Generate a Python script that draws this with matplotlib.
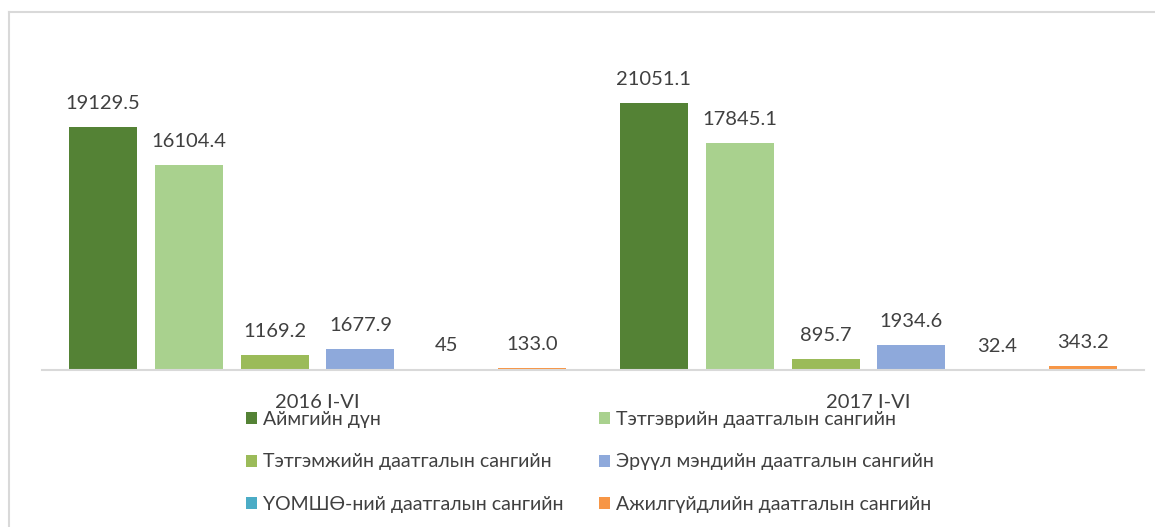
import numpy as np
import matplotlib.pyplot as plt
from matplotlib.patches import Patch
from matplotlib.lines import Line2D

plt.rcParams['font.family'] = ['Lato', 'Noto Sans', 'DejaVu Sans']

periods = ['2016 I-VI', '2017 I-VI']
series = ['Аймгийн дүн', 'Тэтгэврийн даатгалын сангийн', 'Тэтгэмжийн даатгалын сангийн',
          'Эрүүл мэндийн даатгалын сангийн', 'ҮОМШӨ-ний даатгалын сангийн',
          'Ажилгүйдлийн даатгалын сангийн']
values_2016 = [19129.5, 16104.4, 1169.2, 1677.9, 45, 133.0]
values_2017 = [21051.1, 17845.1, 895.7, 1934.6, 32.4, 343.2]
labels_2016 = ['19129.5', '16104.4', '1169.2', '1677.9', '45', '133.0']
labels_2017 = ['21051.1', '17845.1', '895.7', '1934.6', '32.4', '343.2']
colors = ['#548235', '#A9D18E', '#9BBB59', '#8EA9DB', '#4BACC6', '#F79646']

fig = plt.figure(figsize=(11.55, 5.27), dpi=100)
ax = fig.add_axes([42/1155, 1 - 370/527, 1102/1155, 317.6/527])

x = np.arange(len(periods))
step = 0.156
width = 0.1234
vals = np.array([values_2016, values_2017])
labs = [labels_2016, labels_2017]
for k in range(len(series)):
    pos = x + (k - 2.5) * step
    bars = ax.bar(pos, vals[:, k], width=width, color=colors[k], zorder=2)
    for i, b in enumerate(bars):
        ax.annotate(labs[i][k], (b.get_x() + b.get_width()/2, b.get_height()),
                    xytext=(0, 13), textcoords='offset points',
                    ha='center', va='baseline', fontsize=14.5, color='#404040')

ax.set_xlim(-0.5, 1.5)
ax.set_ylim(0, 25000)
ax.set_yticks([])
ax.set_xticks(x)
ax.set_xticklabels(periods, fontsize=14.5, color='#404040')
ax.tick_params(axis='x', length=0, pad=17)
for s in ['top', 'right', 'left']:
    ax.spines[s].set_visible(False)
ax.spines['bottom'].set_color('#d9d9d9')
ax.spines['bottom'].set_linewidth(1.5)

order = [0, 2, 4, 1, 3, 5]
handles = [Patch(facecolor=colors[k], label=series[k]) for k in order]
fig.legend(handles=handles, ncol=2, loc='center', bbox_to_anchor=(590/1155, 1 - 462/527),
           frameon=False, fontsize=14, handlelength=0.57, handleheight=0.57,
           handletextpad=0.3, columnspacing=1.8, labelspacing=1.3, labelcolor='#404040')

# chart border
fig.add_artist(Line2D([9/1155, 9/1155], [0, 1 - 12/527], color='#d9d9d9', lw=1.5))
fig.add_artist(Line2D([9/1155, 1], [1 - 12/527, 1 - 12/527], color='#d9d9d9', lw=1.5))

fig.savefig('out.png', dpi=100)
